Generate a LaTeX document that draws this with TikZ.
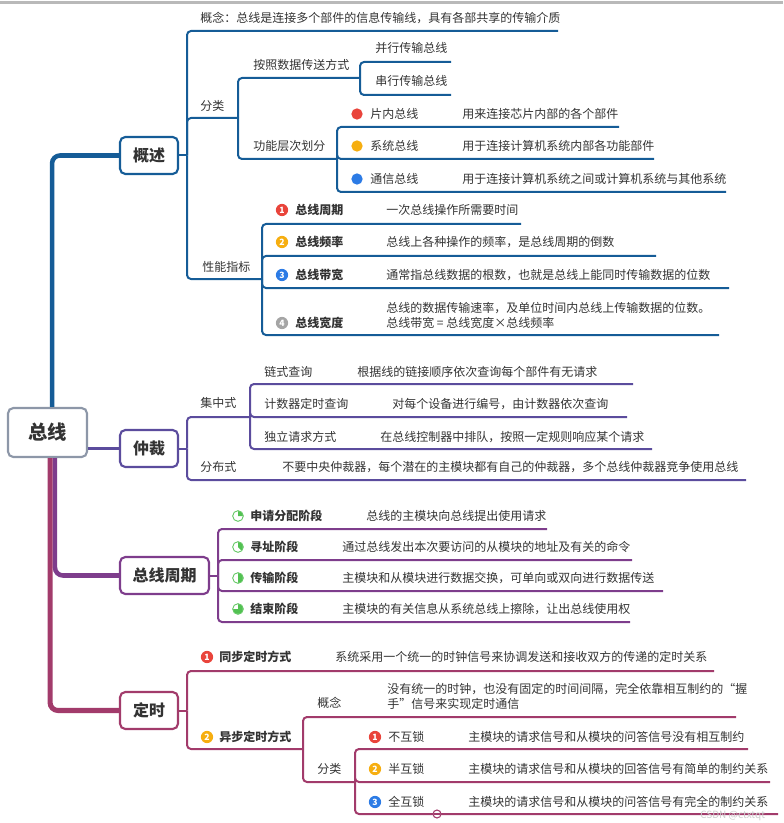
\documentclass[tikz,border=0pt]{standalone}
\usepackage{fontspec}
\setmainfont{Noto Sans CJK SC}
\definecolor{cgy}{HTML}{155C97}
\definecolor{czc}{HTML}{5B4C9D}
\definecolor{czq}{HTML}{7E3D8C}
\definecolor{cds}{HTML}{A23B6B}
\definecolor{croot}{HTML}{8D97A8}
\definecolor{txt}{HTML}{333333}
\definecolor{ired}{HTML}{E9443B}
\definecolor{iorg}{HTML}{F6AE10}
\definecolor{iblu}{HTML}{2C7BE5}
\definecolor{igry}{HTML}{A5A5A5}
\definecolor{igrn}{HTML}{52C152}
\tikzset{
  lbl/.style={anchor=west,inner sep=0pt,text=txt,font=\fontsize{9}{11.25}\selectfont},
  blbl/.style={lbl,font=\fontsize{9}{11.25}\selectfont\bfseries},
  topic/.style={draw=#1,line width=1.6pt,rounded corners=4pt,fill=white,
    minimum height=27.75pt,minimum width=43.5pt,text=txt,
    font=\fontsize{12}{14}\selectfont\bfseries},
  ulin/.style={line width=1.5pt,draw=#1},
  fork/.style={ulin=#1,rounded corners=3pt},
  trunk/.style={line width=3.4pt,draw=#1,rounded corners=6pt},
  numb/.style={circle,fill=#1,inner sep=0pt,minimum size=9.2pt,text=white,
    font=\fontsize{6.5}{6.5}\selectfont\bfseries},
  dotc/.style={circle,fill=#1,inner sep=0pt,minimum size=8.5pt},
  pie/.style={circle,draw=igrn,line width=0.6pt,inner sep=0pt,minimum size=8pt},
}
\begin{document}
\begin{tikzpicture}[x=0.75pt,y=-0.75pt]
\useasboundingbox (0,0) rectangle (783,823);
\fill[gray!55] (0,1) rectangle (783,4);

\node[topic=croot,minimum width=59.25pt,minimum height=36.75pt,
  font=\fontsize{14.5}{16}\selectfont\bfseries] (bus) at (47.5,432.5) {总线};
\node[topic=cgy] (gaiyao) at (149,155.5) {概述};
\node[topic=czc] (zhongcai) at (149,448.5) {仲裁};
\node[topic=czq,minimum width=66.75pt] (zhouqi) at (164.5,575.5) {总线周期};
\node[topic=cds] (dingshi) at (149,710.5) {定时};

\draw[trunk=cgy] ([xshift=3.4pt]bus.north) |- (gaiyao.west);
\draw[trunk=czc,line width=2.4pt] (bus.east |- zhongcai.west) -- (zhongcai.west);
\draw[trunk=czq] ([xshift=5.6pt]bus.south) |- (zhouqi.west);
\draw[trunk=cds,line width=3.8pt] ([xshift=1.9pt]bus.south) |- (dingshi.west);

% gaiyao
\coordinate (gy) at (187,155.5);
\coordinate (gy-1) at (558,31);
\coordinate (fl) at (238,118);
\coordinate (xn) at (262,279);
\coordinate (fs) at (360,78);
\coordinate (gn) at (337,159);
\coordinate (fs-1) at (451,62);
\coordinate (fs-2) at (451,95);
\coordinate (gn-1) at (619,127);
\coordinate (gn-2) at (654,159);
\coordinate (gn-3) at (726,192);
\coordinate (xn-1) at (521,224);
\coordinate (xn-2) at (656,256);
\coordinate (xn-3) at (729,288);
\coordinate (xn-4) at (719,335);
\draw[ulin=cgy] (gaiyao.east) -- (gy);
\draw[fork=cgy] (gy) |- (gy-1);
\draw[fork=cgy] (gy) |- (fl);
\draw[fork=cgy] (gy) |- (xn);
\draw[fork=cgy] (fl) |- (fs);
\draw[fork=cgy] (fl) |- (gn);
\draw[fork=cgy] (fs) |- (fs-1);
\draw[fork=cgy] (fs) |- (fs-2);
\foreach \k in {1,2,3} \draw[fork=cgy] (gn) |- (gn-\k);
\foreach \k in {1,2,3,4} \draw[fork=cgy] (xn) |- (xn-\k);

\node[lbl] (t-gn) at (200,18) {概念：总线是连接多个部件的信息传输线，具有各部共享的传输介质};
\node[lbl] (t-fl) at (200,106) {分类};
\node[lbl] (t-fs) at (253,65) {按照数据传送方式};
\node[lbl] (t-bx) at (375,48) {并行传输总线};
\node[lbl] (t-cx) at (375,81) {串行传输总线};
\node[lbl] (t-gc) at (253,146) {功能层次划分};
\node[dotc=ired] (d-1) at (357,114) {};
\node[dotc=iorg] (d-2) at (357,146) {};
\node[dotc=iblu] (d-3) at (357,179) {};
\node[lbl] (t-pn) at (370,114) {片内总线};
\node[lbl] (t-xt) at (370,146) {系统总线};
\node[lbl] (t-tx) at (370,179) {通信总线};
\node[lbl] (s-pn) at (462,114) {用来连接芯片内部的各个部件};
\node[lbl] (s-xt) at (462,146) {用于连接计算机系统内部各功能部件};
\node[lbl] (s-tx) at (462,179) {用于连接计算机系统之间或计算机系统与其他系统};
\node[lbl] (t-xn) at (202,267) {性能指标};
\node[numb=ired] (n-1) at (282,210) {1};
\node[numb=iorg] (n-2) at (282,242) {2};
\node[numb=iblu] (n-3) at (282,275) {3};
\node[numb=igry] (n-4) at (282,323) {4};
\node[blbl] (t-zq) at (295,210) {总线周期};
\node[blbl] (t-pl) at (295,242) {总线频率};
\node[blbl] (t-dk) at (295,275) {总线带宽};
\node[blbl] (t-kd) at (295,323) {总线宽度};
\node[lbl] (s-zq) at (386,210) {一次总线操作所需要时间};
\node[lbl] (s-pl) at (386,242) {总线上各种操作的频率，是总线周期的倒数};
\node[lbl] (s-dk) at (386,275) {通常指总线数据的根数，也就是总线上能同时传输数据的位数};
\node[lbl,align=left] (s-kd) at (386,315.5) {总线的数据传输速率，及单位时间内总线上传输数据的位数。\\总线带宽 = 总线宽度×总线频率};

% zhongcai
\coordinate (zc) at (187,448.5);
\coordinate (jz) at (250,417);
\coordinate (fb) at (746,480);
\coordinate (jz-1) at (633,384);
\coordinate (jz-2) at (627,417);
\coordinate (jz-3) at (652,449);
\draw[ulin=czc] (zhongcai.east) -- (zc);
\draw[fork=czc] (zc) |- (jz);
\draw[fork=czc] (zc) |- (fb);
\foreach \k in {1,2,3} \draw[fork=czc] (jz) |- (jz-\k);

\node[lbl] (t-jz) at (200,403) {集中式};
\node[lbl] (t-ls) at (264,372) {链式查询};
\node[lbl] (t-js) at (264,404) {计数器定时查询};
\node[lbl] (t-dl) at (264,437) {独立请求方式};
\node[lbl] (s-ls) at (357,372) {根据线的链接顺序依次查询每个部件有无请求};
\node[lbl] (s-js) at (392,404) {对每个设备进行编号，由计数器依次查询};
\node[lbl] (s-dl) at (380,437) {在总线控制器中排队，按照一定规则响应某个请求};
\node[lbl] (t-fb) at (200,467) {分布式};
\node[lbl] (s-fb) at (282,467) {不要中央仲裁器，每个潜在的主模块都有自己的仲裁器，多个总线仲裁器竞争使用总线};

% zhouqi
\coordinate (zq) at (218,575.5);
\coordinate (zq-1) at (547,529);
\coordinate (zq-2) at (632,560);
\coordinate (zq-3) at (663,591);
\coordinate (zq-4) at (630,622);
\draw[ulin=czq] (zhouqi.east) -- (zq);
\foreach \k in {1,2,3,4} \draw[fork=czq] (zq) |- (zq-\k);

\node[pie] (p-1) at (238,516) {};
\node[pie] (p-2) at (238,547) {};
\node[pie] (p-3) at (238,578) {};
\node[pie] (p-4) at (238,609) {};
\fill[igrn] (p-1.center) -- ++(90:3.7pt) arc[start angle=90,end angle=0,radius=3.7pt] -- cycle;
\fill[igrn] (p-2.center) -- ++(90:3.7pt) arc[start angle=90,end angle=-45,radius=3.7pt] -- cycle;
\fill[igrn] (p-3.center) -- ++(90:3.7pt) arc[start angle=90,end angle=-90,radius=3.7pt] -- cycle;
\fill[igrn] (p-4.center) -- ++(90:3.7pt) arc[start angle=90,end angle=-180,radius=3.7pt] -- cycle;
\node[blbl] (t-sq) at (250,516) {申请分配阶段};
\node[blbl] (t-xz) at (250,547) {寻址阶段};
\node[blbl] (t-cs) at (250,578) {传输阶段};
\node[blbl] (t-js2) at (250,609) {结束阶段};
\node[lbl] (s-sq) at (366,516) {总线的主模块向总线提出使用请求};
\node[lbl] (s-xz) at (342,547) {通过总线发出本次要访问的从模块的地址及有关的命令};
\node[lbl] (s-cs) at (342,578) {主模块和从模块进行数据交换，可单向或双向进行数据传送};
\node[lbl] (s-js2) at (342,609) {主模块的有关信息从系统总线上擦除，让出总线使用权};

% dingshi
\coordinate (ds) at (187,710.5);
\coordinate (tb) at (714,671);
\coordinate (yb) at (303,749);
\coordinate (yb-1) at (736,717);
\coordinate (yb-2) at (355,782);
\coordinate (hs-1) at (748,749);
\coordinate (hs-2) at (770,782);
\coordinate (hs-3) at (778,814);
\draw[ulin=cds] (dingshi.east) -- (ds);
\draw[fork=cds] (ds) |- (tb);
\draw[fork=cds] (ds) |- (yb);
\draw[fork=cds] (yb) |- (yb-1);
\draw[fork=cds] (yb) |- (yb-2);
\foreach \k in {1,2,3} \draw[fork=cds] (yb-2) |- (hs-\k);
\node[circle,draw=cds,fill=white,line width=0.8pt,inner sep=0pt,minimum size=6pt] (fold) at (437,814) {};
\draw[cds,line width=0.8pt] ([xshift=1pt]fold.west) -- ([xshift=-1pt]fold.east);

\node[numb=ired] (n-tb) at (207,657) {1};
\node[numb=iorg] (n-yb) at (207,737) {2};
\node[blbl] (t-tb) at (219,657) {同步定时方式};
\node[blbl] (t-yb) at (219,737) {异步定时方式};
\node[lbl] (s-tb) at (335,657) {系统采用一个统一的时钟信号来协调发送和接收双方的传递的定时关系};
\node[lbl] (t-gn2) at (317,703) {概念};
\node[lbl,align=left] (s-gn2) at (387,696.5) {没有统一的时钟，也没有固定的时间间隔，完全依靠相互制约的“握\\手”信号来实现定时通信};
\node[lbl] (t-fl2) at (317,769) {分类};
\node[numb=ired] (n-h1) at (375,737) {1};
\node[numb=iorg] (n-h2) at (375,769) {2};
\node[numb=iblu] (n-h3) at (375,802) {3};
\node[lbl] (t-h1) at (388,737) {不互锁};
\node[lbl] (t-h2) at (388,769) {半互锁};
\node[lbl] (t-h3) at (388,802) {全互锁};
\node[lbl] (s-h1) at (468,737) {主模块的请求信号和从模块的问答信号没有相互制约};
\node[lbl] (s-h2) at (468,769) {主模块的请求信号和从模块的回答信号有简单的制约关系};
\node[lbl] (s-h3) at (468,802) {主模块的请求信号和从模块的问答信号有完全的制约关系};
\node[lbl,text=gray!40,font=\fontsize{7.5}{7.5}\selectfont] (wm) at (700,816) {CSDN @ctxtqt};
\end{tikzpicture}
\end{document}
